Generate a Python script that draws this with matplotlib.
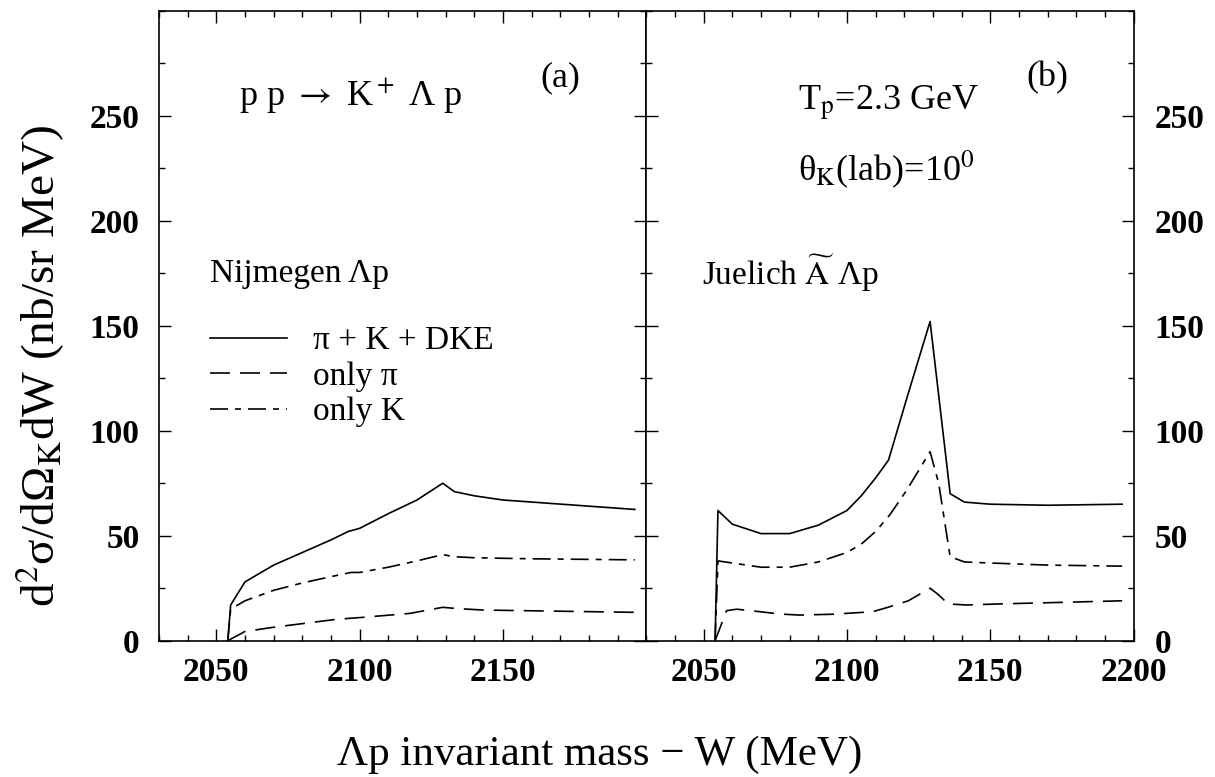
import matplotlib
matplotlib.use("Agg")
import matplotlib.pyplot as plt
from matplotlib.ticker import MultipleLocator

plt.rcParams["font.family"] = ["Liberation Serif", "DejaVu Serif"]
plt.rcParams["mathtext.fontset"] = "stix"

# panel (a): Nijmegen Lambda-p
w_tot_a = [2054, 2055, 2060, 2070, 2080, 2090, 2096, 2100, 2110, 2120, 2129, 2133, 2140, 2150, 2196]
tot_a = [0, 17, 28, 36, 42, 48, 52, 53.5, 60.5, 67, 75, 71, 69, 67, 62.5]
w_pi_a = [2054, 2060, 2070, 2092, 2100, 2117.5, 2129, 2133, 2143, 2196]
pi_a = [0, 4.4, 6.4, 10.2, 11, 13, 15.9, 15.4, 14.6, 13.5]
w_k_a = [2054, 2055, 2060, 2070, 2080, 2090, 2097, 2100, 2110, 2120, 2129, 2133, 2140, 2160, 2196]
k_a = [0, 15, 19, 24, 27.5, 30.5, 32.5, 32.5, 35, 38, 41, 40, 39.5, 39, 38.5]

# panel (b): Juelich A~ Lambda-p
w_tot_b = [2054, 2055, 2060, 2070, 2080, 2090, 2100, 2105, 2110, 2114.5, 2121, 2129, 2136, 2141, 2150, 2170, 2196]
tot_b = [0, 62, 55.5, 51, 51, 55, 62, 69, 77.5, 86, 116, 152, 70, 66, 65, 64.5, 65]
w_pi_b = [2054, 2058, 2061.5, 2069.7, 2076.6, 2083.5, 2095, 2109, 2115, 2121.4, 2129, 2132, 2135.3, 2141.7, 2153, 2196]
pi_b = [0, 14.3, 15, 13.8, 12.7, 12.2, 12.6, 13.8, 16.2, 19, 25, 21.8, 17.5, 17, 17.5, 19]
w_k_b = [2054, 2055, 2060, 2070, 2080, 2090, 2100, 2105, 2110, 2115, 2121, 2129, 2132, 2136, 2141, 2150, 2170, 2196]
k_b = [0, 38, 37, 35, 35, 37.5, 42, 46, 52, 60, 72, 90, 75, 40, 37.5, 37, 36, 35.5]

labels = ["π + K + DKE", "only π", "only K"]
yticks = [0, 50, 100, 150, 200, 250]

lw = 1.2
dash = [12, 6]
dashdot = [10.8, 4.2, 3.6, 4.2]

fig = plt.figure(figsize=(12.15, 7.77), dpi=100)
ax1 = fig.add_axes([159 / 1215, 1 - 640.7 / 777, 487.3 / 1215, 630 / 777])
ax2 = fig.add_axes([646.3 / 1215, 1 - 640.7 / 777, 487.3 / 1215, 630 / 777])

for ax in (ax1, ax2):
    ax.set_xlim(2030, 2200)
    ax.set_ylim(0, 300)
    ax.set_yticks(yticks)
    ax.yaxis.set_minor_locator(MultipleLocator(25))
    ax.xaxis.set_minor_locator(MultipleLocator(10))
    ax.tick_params(which="both", direction="in", top=True, bottom=True,
                   left=True, right=True, width=1.0, labelsize=24)
    ax.tick_params(which="major", length=8.5)
    ax.tick_params(which="minor", length=4.5)
    ax.tick_params(axis="x", pad=12)
    for s in ax.spines.values():
        s.set_linewidth(1.2)

ax1.set_xticks([2050, 2100, 2150])
ax2.set_xticks([2050, 2100, 2150, 2200])
ax1.tick_params(axis="y", pad=14)
ax2.tick_params(axis="y", labelleft=False, labelright=True, pad=15)
for ax in (ax1, ax2):
    plt.setp(ax.get_xticklabels() + ax.get_yticklabels(), fontweight="bold")

# curves
l1, = ax1.plot(w_tot_a, tot_a, color="k", lw=lw)
l2, = ax1.plot(w_pi_a, pi_a, color="k", lw=lw, dashes=dash)
l3, = ax1.plot(w_k_a, k_a, color="k", lw=lw, dashes=dashdot)
ax2.plot(w_tot_b, tot_b, color="k", lw=lw)
ax2.plot(w_pi_b, pi_b, color="k", lw=lw, dashes=dash)
ax2.plot(w_k_b, k_b, color="k", lw=lw, dashes=dashdot)

ax1.legend([l1, l2, l3], labels, loc="upper left", bbox_to_anchor=(0.1047, 0.5),
           frameon=False, fontsize=24, handlelength=2.3, handletextpad=0.8,
           labelspacing=0.15, borderpad=0, borderaxespad=0)

# annotations
ax1.text(2058, 255, "p p $\\rightarrow$ K$^+$ Λ p", fontsize=26, va="baseline")
ax1.text(2170, 268, "(a)", fontsize=26, ha="center", va="center")
ax1.text(2047.8, 171, "Nijmegen Λp", fontsize=24, va="baseline")
ax2.text(2170, 268, "(b)", fontsize=26, ha="center", va="center")
ax2.text(2083, 252.7, "T$_\\mathrm{p}$=2.3 GeV", fontsize=26, va="baseline")
ax2.text(2083, 219.4, "θ$_\\mathrm{K}$(lab)=10$^0$", fontsize=26, va="baseline")
ax2.text(2049.3, 169.4, "Juelich $\\widetilde{\\mathrm{A}}$ Λp", fontsize=24, va="baseline")

fig.text(40 / 1215, 1 - 366 / 777, "d$^2$σ/dΩ$_\\mathrm{K}$dW (nb/sr MeV)",
         rotation=90, ha="center", va="center", fontsize=34)
fig.text(600 / 1215, 1 - 765 / 777, "Λp invariant mass − W (MeV)",
         ha="center", va="baseline", fontsize=31)

fig.savefig("out.png", dpi=100)
